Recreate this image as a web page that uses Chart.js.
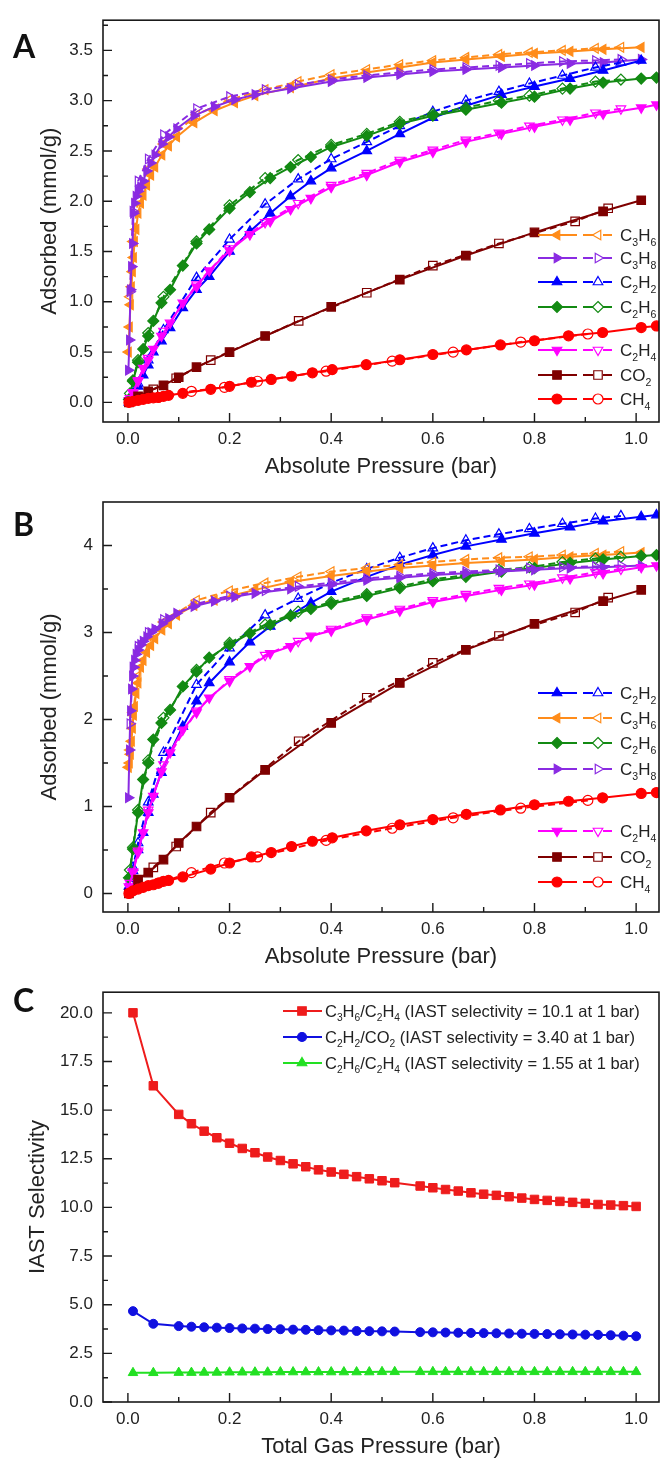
<!DOCTYPE html>
<html>
<head>
<meta charset="utf-8">
<script src="https://cdn.jsdelivr.net/npm/chart.js@4.4.1/dist/chart.umd.min.js"></script>
<style>
    html, body { margin: 0; padding: 0; background: #fff; }
    body { width: 662px; height: 1460px; position: relative; overflow: hidden; }
    canvas { position: absolute; left: 0; }
    .painel { position: absolute; z-index: 2; font-family: Lato, 'Open Sans', sans-serif; font-weight: 700; font-size: 32px; line-height: 1; color: #111; }
</style>
</head>
<body>
<canvas id="graficoA" width="662" height="480" style="top:0px"></canvas>
<canvas id="graficoB" width="662" height="492" style="top:480px"></canvas>
<canvas id="graficoC" width="662" height="488" style="top:972px"></canvas>
<div class="painel" style="left:13px;top:30px">A</div>
<div class="painel" style="left:13px;top:508px">B</div>
<div class="painel" style="left:13px;top:984px">C</div>
<script>
/**
 * Isotermas de adsorção (A, B) e seletividade IAST (C)
 */

const FONTE = "'Liberation Sans', Arial, sans-serif";
const COR_TEXTO = '#222';

// Marcas dos eixos
const ticksX = [0, 0.2, 0.4, 0.6, 0.8, 1.0];
const ticksXMenores = [0.1, 0.3, 0.5, 0.7, 0.9];
const ticksYA = [0, 0.5, 1.0, 1.5, 2.0, 2.5, 3.0, 3.5];
const ticksYAMenores = [0.25, 0.75, 1.25, 1.75, 2.25, 2.75, 3.25, 3.75];
const ticksYB = [0, 1, 2, 3, 4];
const ticksYBMenores = [0.5, 1.5, 2.5, 3.5];
const ticksYC = [0, 2.5, 5, 7.5, 10, 12.5, 15, 17.5, 20];
const ticksYCMenores = [1.25, 3.75, 6.25, 8.75, 11.25, 13.75, 16.25, 18.75];

// Pressões (bar)
const pAds = [0.002, 0.01, 0.02, 0.03, 0.04, 0.05, 0.066, 0.083, 0.108, 0.135, 0.16, 0.2, 0.24, 0.28, 0.32, 0.36, 0.4, 0.47, 0.535, 0.6, 0.665, 0.735, 0.8, 0.87, 0.935, 1.01, 1.04];
const pAdsC3 = [0.001, 0.003, 0.005, 0.007, 0.009, 0.011, 0.013, 0.016, 0.02, 0.025, 0.03, 0.037, 0.045, 0.053, 0.067, 0.08, 0.096, 0.13, 0.17, 0.21, 0.25, 0.32, 0.4, 0.47, 0.535, 0.6, 0.665, 0.735, 0.8, 0.87, 0.935, 1.01];
const pDes = [0.97, 0.92, 0.855, 0.79, 0.73, 0.665, 0.6, 0.535, 0.47, 0.4, 0.335, 0.27, 0.2, 0.135, 0.07, 0.04, 0.02, 0.01, 0.004];
const pCO2Ads = [0.002, 0.02, 0.04, 0.07, 0.1, 0.135, 0.2, 0.27, 0.4, 0.535, 0.665, 0.8, 0.935, 1.01];
const pCO2Des = [0.945, 0.88, 0.73, 0.6, 0.47, 0.336, 0.163, 0.095, 0.05];
const pCH4Ads = [0.002, 0.01, 0.02, 0.03, 0.04, 0.05, 0.06, 0.07, 0.08, 0.108, 0.163, 0.2, 0.243, 0.282, 0.322, 0.363, 0.402, 0.469, 0.535, 0.6, 0.666, 0.733, 0.8, 0.867, 0.934, 1.01, 1.04];
const pCH4Des = [0.905, 0.773, 0.64, 0.52, 0.39, 0.255, 0.19, 0.125, 0.06];

// Painel A - quantidade adsorvida (mmol/g)
const A_C3H6_ads = [0.5, 0.75, 0.97, 1.15, 1.3, 1.44, 1.6, 1.72, 1.88, 1.98, 2.06, 2.16, 2.26, 2.34, 2.46, 2.55, 2.64, 2.78, 2.9, 2.98, 3.05, 3.13, 3.22, 3.28, 3.33, 3.38, 3.41, 3.44, 3.47, 3.49, 3.51, 3.53];
const A_C3H6_des = [3.53, 3.52, 3.50, 3.48, 3.46, 3.43, 3.40, 3.36, 3.31, 3.26, 3.19, 3.11, 3.01, 2.86, 2.57, 2.32, 2.02, 1.6, 1.05];
const A_C3H8_ads = [0.32, 0.62, 1.12, 1.35, 1.58, 1.88, 1.98, 2.05, 2.1, 2.14, 2.2, 2.3, 2.38, 2.46, 2.57, 2.64, 2.72, 2.85, 2.94, 3.01, 3.06, 3.12, 3.19, 3.23, 3.26, 3.29, 3.31, 3.33, 3.35, 3.37, 3.38, 3.41];
const A_C3H8_des = [3.41, 3.40, 3.39, 3.37, 3.35, 3.33, 3.31, 3.28, 3.25, 3.21, 3.16, 3.11, 3.04, 2.92, 2.66, 2.42, 2.2, 1.9, 1.1];
const A_C2H2_ads = [0.0, 0.08, 0.16, 0.27, 0.37, 0.5, 0.61, 0.74, 0.94, 1.12, 1.25, 1.5, 1.7, 1.88, 2.05, 2.2, 2.33, 2.5, 2.67, 2.83, 2.95, 3.06, 3.14, 3.22, 3.30, 3.40, null];
const A_C2H2_des = [3.38, 3.33, 3.25, 3.17, 3.09, 3.0, 2.89, 2.75, 2.59, 2.42, 2.22, 1.97, 1.62, 1.24, 0.72, 0.42, 0.19, 0.09, 0.03];
const A_C2H6_ads = [0.03, 0.21, 0.4, 0.53, 0.66, 0.81, 0.99, 1.12, 1.36, 1.58, 1.72, 1.93, 2.09, 2.23, 2.34, 2.44, 2.54, 2.65, 2.77, 2.85, 2.91, 2.98, 3.04, 3.12, 3.18, 3.22, 3.23];
const A_C2H6_des = [3.21, 3.19, 3.12, 3.05, 3.0, 2.93, 2.87, 2.79, 2.67, 2.56, 2.41, 2.23, 1.96, 1.6, 1.05, 0.69, 0.42, 0.22, 0.09];
const A_C2H4_ads = [0.02, 0.09, 0.21, 0.34, 0.42, 0.53, 0.66, 0.79, 0.99, 1.15, 1.31, 1.51, 1.67, 1.8, 1.92, 2.03, 2.14, 2.26, 2.39, 2.49, 2.59, 2.67, 2.74, 2.81, 2.87, 2.93, 2.96];
const A_C2H4_des = [2.92, 2.88, 2.81, 2.75, 2.68, 2.61, 2.51, 2.41, 2.28, 2.16, 1.98, 1.79, 1.53, 1.17, 0.71, 0.44, 0.22, 0.1, 0.04];
const A_CO2_ads = [0.0, 0.06, 0.11, 0.17, 0.25, 0.35, 0.5, 0.66, 0.95, 1.22, 1.46, 1.69, 1.9, 2.01];
const A_CO2_des = [1.93, 1.8, 1.58, 1.36, 1.09, 0.81, 0.42, 0.24, 0.13];
const A_CH4_ads = [0.0, 0.01, 0.02, 0.03, 0.04, 0.045, 0.05, 0.06, 0.07, 0.09, 0.13, 0.16, 0.2, 0.228, 0.26, 0.294, 0.326, 0.375, 0.424, 0.476, 0.522, 0.571, 0.613, 0.662, 0.695, 0.744, 0.76];
const A_CH4_des = [0.68, 0.6, 0.5, 0.41, 0.31, 0.21, 0.15, 0.11, 0.05];

// Painel B - quantidade adsorvida (mmol/g)
const B_C2H2_ads = [0.08, 0.26, 0.5, 0.7, 0.93, 1.14, 1.39, 1.62, 1.92, 2.21, 2.42, 2.66, 2.89, 3.07, 3.2, 3.34, 3.47, 3.64, 3.78, 3.89, 3.99, 4.07, 4.14, 4.21, 4.28, 4.33, 4.35];
const B_C2H2_des = [4.34, 4.31, 4.25, 4.19, 4.13, 4.06, 3.97, 3.86, 3.73, 3.57, 3.39, 3.2, 2.82, 2.4, 1.62, 1.05, 0.58, 0.3, 0.13];
const B_C3H6_ads = [1.45, 1.5, 1.6, 1.75, 1.9, 2.05, 2.15, 2.3, 2.42, 2.6, 2.68, 2.77, 2.85, 2.93, 3.03, 3.1, 3.2, 3.31, 3.37, 3.43, 3.49, 3.58, 3.65, 3.7, 3.74, 3.77, 3.8, 3.82, 3.84, 3.87, 3.89, 3.92];
const B_C3H6_des = [3.93, 3.91, 3.89, 3.87, 3.86, 3.84, 3.81, 3.78, 3.74, 3.7, 3.64, 3.57, 3.48, 3.37, 3.12, 2.88, 2.5, 2.08, 1.65];
const B_C2H6_ads = [0.18, 0.51, 0.93, 1.31, 1.5, 1.77, 1.96, 2.11, 2.38, 2.55, 2.71, 2.86, 2.99, 3.09, 3.19, 3.27, 3.33, 3.42, 3.51, 3.59, 3.64, 3.7, 3.74, 3.8, 3.84, 3.88, 3.89];
const B_C2H6_des = [3.87, 3.85, 3.81, 3.75, 3.72, 3.66, 3.61, 3.53, 3.44, 3.35, 3.24, 3.09, 2.88, 2.57, 2.02, 1.53, 0.96, 0.53, 0.27];
const B_C3H8_ads = [1.1, 1.65, 2.1, 2.35, 2.5, 2.6, 2.68, 2.75, 2.8, 2.86, 2.9, 2.95, 3.0, 3.04, 3.1, 3.16, 3.22, 3.3, 3.36, 3.41, 3.45, 3.5, 3.55, 3.6, 3.63, 3.66, 3.68, 3.7, 3.72, 3.74, 3.75, 3.77];
const B_C3H8_des = [3.77, 3.76, 3.75, 3.74, 3.72, 3.7, 3.68, 3.65, 3.62, 3.57, 3.53, 3.48, 3.42, 3.33, 3.15, 3.0, 2.84, 2.6, 1.95];
const B_C2H4_ads = [0.08, 0.24, 0.47, 0.7, 0.93, 1.12, 1.4, 1.62, 1.88, 2.08, 2.25, 2.44, 2.61, 2.76, 2.84, 2.96, 3.02, 3.15, 3.25, 3.35, 3.42, 3.49, 3.55, 3.62, 3.68, 3.75, 3.77];
const B_C2H4_des = [3.73, 3.69, 3.63, 3.56, 3.51, 3.44, 3.37, 3.27, 3.17, 3.04, 2.9, 2.74, 2.46, 2.1, 1.48, 0.96, 0.49, 0.25, 0.12];
const B_CO2_ads = [0.0, 0.16, 0.24, 0.39, 0.58, 0.77, 1.1, 1.42, 1.96, 2.42, 2.8, 3.1, 3.36, 3.49];
const B_CO2_des = [3.4, 3.23, 2.96, 2.65, 2.25, 1.75, 0.93, 0.54, 0.3];
const B_CH4_ads = [0.0, 0.03, 0.05, 0.07, 0.09, 0.1, 0.12, 0.14, 0.15, 0.19, 0.28, 0.35, 0.42, 0.47, 0.54, 0.6, 0.64, 0.72, 0.79, 0.85, 0.91, 0.96, 1.02, 1.06, 1.1, 1.15, 1.16];
const B_CH4_des = [1.07, 0.98, 0.87, 0.75, 0.61, 0.42, 0.35, 0.24, 0.12];

// Painel C - seletividade IAST
const pTotal = [0.01, 0.05, 0.1, 0.125, 0.15, 0.175, 0.2, 0.225, 0.25, 0.275, 0.3, 0.325, 0.35, 0.375, 0.4, 0.425, 0.45, 0.475, 0.5, 0.525,
    0.575, 0.6, 0.625, 0.65, 0.675, 0.7, 0.725, 0.75, 0.775, 0.8, 0.825, 0.85, 0.875, 0.9, 0.925, 0.95, 0.975, 1.0];
const selC3H6C2H4 = [20.0, 16.25, 14.78, 14.3, 13.92, 13.58, 13.3, 13.03, 12.81, 12.59, 12.41, 12.24, 12.09, 11.93, 11.82, 11.7, 11.58, 11.47, 11.37, 11.27,
    11.1, 11.01, 10.92, 10.84, 10.75, 10.68, 10.62, 10.55, 10.48, 10.41, 10.36, 10.31, 10.26, 10.21, 10.15, 10.12, 10.09, 10.05];
const selC2H2CO2 = [4.67, 4.02, 3.9, 3.87, 3.84, 3.82, 3.8, 3.78, 3.77, 3.75, 3.74, 3.72, 3.71, 3.69, 3.68, 3.67, 3.65, 3.64, 3.63, 3.62,
    3.59, 3.58, 3.57, 3.56, 3.55, 3.54, 3.53, 3.52, 3.51, 3.50, 3.49, 3.48, 3.47, 3.46, 3.45, 3.43, 3.41, 3.38];
const selC2H6C2H4 = [1.5, 1.5, 1.51, 1.51, 1.52, 1.52, 1.53, 1.53, 1.53, 1.53, 1.54, 1.54, 1.54, 1.54, 1.54, 1.54, 1.54, 1.54, 1.55, 1.55,
    1.55, 1.55, 1.55, 1.55, 1.55, 1.55, 1.55, 1.55, 1.55, 1.55, 1.55, 1.55, 1.55, 1.55, 1.55, 1.55, 1.55, 1.55];
const rotulosC = ['C3H6/C2H4 (IAST selectivity = 10.1 at 1 bar)', 'C2H2/CO2 (IAST selectivity = 3.40 at 1 bar)', 'C2H6/C2H4 (IAST selectivity = 1.55 at 1 bar)'];

// Estilo de cada gás
const estiloGas = {
    C3H6: { cor: '#ff8c1a', forma: 'triangle', rot: 270, raio: 5.5 },
    C3H8: { cor: '#8a2be2', forma: 'triangle', rot: 90, raio: 5.5 },
    C2H2: { cor: '#0000ff', forma: 'triangle', rot: 0, raio: 5.5 },
    C2H6: { cor: '#138a13', forma: 'rectRot', rot: 0, raio: 5.5 },
    C2H4: { cor: '#ff00ff', forma: 'triangle', rot: 180, raio: 5.5 },
    CO2: { cor: '#7f0000', forma: 'rect', rot: 0, raio: 6 },
    CH4: { cor: '#ff0000', forma: 'circle', rot: 0, raio: 5 }
};
const estiloSel = [
    { cor: '#ee1c1c', forma: 'rect', rot: 0, raio: 6 },
    { cor: '#1010e0', forma: 'circle', rot: 0, raio: 4.5 },
    { cor: '#22e022', forma: 'triangle', rot: 0, raio: 5.5 }
];

function pontos(xs, ys) {
    return xs.map((x, i) => ({ x: x, y: ys[i] }));
}

// Duas séries por gás: adsorção (cheia, contínua) e dessorção (vazia, tracejada)
function seriesGas(nome, pa, ya, pd, yd) {
    const e = estiloGas[nome];
    const base = {
        showLine: true, tension: 0, borderWidth: 2, borderColor: e.cor,
        pointStyle: e.forma, pointRotation: e.rot, pointRadius: e.raio,
        pointBorderColor: e.cor, pointBorderWidth: 1.2
    };
    return [
        Object.assign({}, base, { label: nome + ' des', data: pontos(pd, yd), borderDash: [7, 4], pointBackgroundColor: 'rgba(255,255,255,0)' }),
        Object.assign({}, base, { label: nome + ' ads', data: pontos(pa, ya), pointBackgroundColor: e.cor, backgroundColor: e.cor })
    ];
}

function desenharMarcador(ctx, e, x, y, cheio) {
    const r = e.raio;
    ctx.save();
    ctx.translate(x, y);
    ctx.rotate(e.rot * Math.PI / 180);
    ctx.beginPath();
    if (e.forma === 'circle') {
        ctx.arc(0, 0, r, 0, Math.PI * 2);
    } else if (e.forma === 'triangle') {
        for (let k = 0; k < 3; k++) {
            const a = k * 2 * Math.PI / 3;
            ctx.lineTo(Math.sin(a) * r, -Math.cos(a) * r);
        }
        ctx.closePath();
    } else if (e.forma === 'rect') {
        const s = r * Math.SQRT1_2;
        ctx.rect(-s, -s, 2 * s, 2 * s);
    } else {
        ctx.moveTo(0, -r); ctx.lineTo(r, 0); ctx.lineTo(0, r); ctx.lineTo(-r, 0); ctx.closePath();
    }
    ctx.lineWidth = 1.2;
    ctx.strokeStyle = e.cor;
    if (cheio) { ctx.fillStyle = e.cor; ctx.fill(); }
    ctx.stroke();
    ctx.restore();
}

// Texto com índices químicos (dígito logo após letra vira subscrito)
function escreverFormula(ctx, texto, x, y, tam) {
    const partes = [];
    let anterior = '';
    for (const ch of texto) {
        const sub = /[0-9]/.test(ch) && /[A-Za-z]/.test(anterior);
        const ultima = partes[partes.length - 1];
        if (ultima && !sub && !ultima.sub) ultima.t += ch;
        else partes.push({ t: ch, sub: sub });
        anterior = ch;
    }
    const base = y + tam * 0.36;
    let cx = x;
    ctx.save();
    ctx.fillStyle = COR_TEXTO;
    ctx.textBaseline = 'alphabetic';
    ctx.textAlign = 'left';
    partes.forEach(p => {
        const t = p.sub ? tam * 0.62 : tam;
        ctx.font = t + 'px ' + FONTE;
        ctx.fillText(p.t, cx, p.sub ? base + tam * 0.26 : base);
        cx += ctx.measureText(p.t).width;
    });
    ctx.restore();
}

// Moldura e marcas para dentro
const pluginMoldura = {
    id: 'moldura',
    afterDraw(chart, args, opts) {
        const ctx = chart.ctx;
        const area = chart.chartArea;
        const sx = chart.scales.x;
        const sy = chart.scales.y;
        ctx.save();
        ctx.strokeStyle = '#1a1a1a';
        ctx.lineWidth = 1.6;
        ctx.strokeRect(area.left, area.top, area.right - area.left, area.bottom - area.top);
        ctx.lineWidth = 1.4;
        ctx.beginPath();
        const marcaX = (v, c) => { const px = sx.getPixelForValue(v); ctx.moveTo(px, area.bottom); ctx.lineTo(px, area.bottom - c); };
        const marcaY = (v, c) => { const py = sy.getPixelForValue(v); ctx.moveTo(area.left, py); ctx.lineTo(area.left + c, py); };
        opts.xMaiores.forEach(v => marcaX(v, 9));
        opts.xMenores.forEach(v => marcaX(v, 5));
        opts.yMaiores.forEach(v => marcaY(v, 9));
        opts.yMenores.forEach(v => marcaY(v, 5));
        ctx.stroke();
        ctx.restore();
    }
};

// Legenda desenhada no canvas
const pluginLegenda = {
    id: 'legendaQuimica',
    afterDraw(chart, args, opts) {
        const ctx = chart.ctx;
        opts.itens.forEach((item, i) => {
            const y = opts.linhas[i];
            const e = item.estilo;
            ctx.save();
            ctx.strokeStyle = e.cor;
            ctx.lineWidth = 2;
            ctx.beginPath();
            if (opts.tipo === 'isoterma') {
                ctx.moveTo(538, y); ctx.lineTo(577, y);
                ctx.moveTo(583, y); ctx.lineTo(593, y);
                ctx.moveTo(603, y); ctx.lineTo(612, y);
                ctx.stroke();
                desenharMarcador(ctx, e, 557, y, true);
                desenharMarcador(ctx, e, 598, y, false);
                escreverFormula(ctx, item.texto, 620, y, 17);
            } else {
                ctx.moveTo(283, y); ctx.lineTo(322, y);
                ctx.stroke();
                desenharMarcador(ctx, e, 302, y, true);
                escreverFormula(ctx, item.texto, 325, y, 16.5);
            }
            ctx.restore();
        });
    }
};

function eixos(cfg) {
    const fonteTick = { family: FONTE, size: 17 };
    const fonteTitulo = { family: FONTE, size: 22 };
    return {
        x: {
            type: 'linear', min: -0.049, max: 1.045,
            afterBuildTicks: s => { s.ticks = ticksX.map(v => ({ value: v })); },
            afterFit: s => { s.height = cfg.alturaX; },
            grid: { display: false, drawTicks: false },
            border: { display: false },
            ticks: { padding: 7, color: COR_TEXTO, font: fonteTick, autoSkip: false, maxRotation: 0, callback: v => v.toFixed(1) },
            title: { display: true, text: cfg.tituloX, color: COR_TEXTO, font: fonteTitulo, padding: { top: 0, bottom: cfg.padTituloX } }
        },
        y: {
            type: 'linear', min: cfg.yMin, max: cfg.yMax,
            afterBuildTicks: s => { s.ticks = cfg.ticksY.map(v => ({ value: v })); },
            afterFit: s => { s.width = 103; },
            grid: { display: false, drawTicks: false },
            border: { display: false },
            ticks: { padding: 10, color: COR_TEXTO, font: fonteTick, autoSkip: false, callback: cfg.formatoY },
            title: { display: true, text: cfg.tituloY, color: COR_TEXTO, font: fonteTitulo, padding: { top: cfg.padTituloY, bottom: 0 } }
        }
    };
}

function criarGrafico(id, datasets, cfg, legenda) {
    const ctx = document.getElementById(id).getContext('2d');
    return new Chart(ctx, {
        type: 'scatter',
        data: { datasets: datasets },
        options: {
            responsive: false,
            animation: false,
            events: [],
            layout: { autoPadding: false, padding: { top: cfg.topo, right: 3, left: 0, bottom: 0 } },
            plugins: {
                legend: { display: false },
                tooltip: { enabled: false },
                moldura: { xMaiores: ticksX, xMenores: ticksXMenores, yMaiores: cfg.ticksY, yMenores: cfg.ticksYMenores },
                legendaQuimica: legenda
            },
            scales: eixos(cfg)
        },
        plugins: [pluginMoldura, pluginLegenda]
    });
}

// Painel A
const ordemA = ['C3H6', 'C3H8', 'C2H2', 'C2H6', 'C2H4', 'CO2', 'CH4'];
const seriesA = {
    C3H6: seriesGas('C3H6', pAdsC3, A_C3H6_ads, pDes, A_C3H6_des),
    C3H8: seriesGas('C3H8', pAdsC3, A_C3H8_ads, pDes, A_C3H8_des),
    C2H2: seriesGas('C2H2', pAds, A_C2H2_ads, pDes, A_C2H2_des),
    C2H6: seriesGas('C2H6', pAds, A_C2H6_ads, pDes, A_C2H6_des),
    C2H4: seriesGas('C2H4', pAds, A_C2H4_ads, pDes, A_C2H4_des),
    CO2: seriesGas('CO2', pCO2Ads, A_CO2_ads, pCO2Des, A_CO2_des),
    CH4: seriesGas('CH4', pCH4Ads, A_CH4_ads, pCH4Des, A_CH4_des)
};
criarGrafico('graficoA',
    ordemA.slice().reverse().flatMap(n => seriesA[n]),
    { topo: 12, alturaX: 58, padTituloX: 0, tituloX: 'Absolute Pressure (bar)', tituloY: 'Adsorbed (mmol/g)', padTituloY: 37,
      yMin: -0.195, yMax: 3.80, ticksY: ticksYA, ticksYMenores: ticksYAMenores, formatoY: v => v.toFixed(1) },
    { tipo: 'isoterma', linhas: [235, 258, 282, 307, 350, 375, 399], itens: ordemA.map(n => ({ texto: n, estilo: estiloGas[n] })) }
);

// Painel B
const ordemB = ['C2H2', 'C3H6', 'C2H6', 'C3H8', 'C2H4', 'CO2', 'CH4'];
const seriesB = {
    C2H2: seriesGas('C2H2', pAds, B_C2H2_ads, pDes, B_C2H2_des),
    C3H6: seriesGas('C3H6', pAdsC3, B_C3H6_ads, pDes, B_C3H6_des),
    C2H6: seriesGas('C2H6', pAds, B_C2H6_ads, pDes, B_C2H6_des),
    C3H8: seriesGas('C3H8', pAdsC3, B_C3H8_ads, pDes, B_C3H8_des),
    C2H4: seriesGas('C2H4', pAds, B_C2H4_ads, pDes, B_C2H4_des),
    CO2: seriesGas('CO2', pCO2Ads, B_CO2_ads, pCO2Des, B_CO2_des),
    CH4: seriesGas('CH4', pCH4Ads, B_CH4_ads, pCH4Des, B_CH4_des)
};
criarGrafico('graficoB',
    ordemB.slice().reverse().flatMap(n => seriesB[n]),
    { topo: 22, alturaX: 60, padTituloX: 2, tituloX: 'Absolute Pressure (bar)', tituloY: 'Adsorbed (mmol/g)', padTituloY: 37,
      yMin: -0.213, yMax: 4.5, ticksY: ticksYB, ticksYMenores: ticksYBMenores, formatoY: v => String(v) },
    { tipo: 'isoterma', linhas: [213, 238, 263, 289, 351, 377, 402], itens: ordemB.map(n => ({ texto: n, estilo: estiloGas[n] })) }
);

// Painel C
const valoresC = [selC3H6C2H4, selC2H2CO2, selC2H6C2H4];
const seriesC = valoresC.map((vals, i) => {
    const e = estiloSel[i];
    return {
        label: rotulosC[i], data: pontos(pTotal, vals), showLine: true, tension: 0,
        borderColor: e.cor, borderWidth: 2, pointStyle: e.forma, pointRotation: e.rot, pointRadius: e.raio,
        pointBackgroundColor: e.cor, pointBorderColor: e.cor, pointBorderWidth: 1
    };
});
criarGrafico('graficoC',
    seriesC,
    { topo: 19, alturaX: 58, padTituloX: 0, tituloX: 'Total Gas Pressure (bar)', tituloY: 'IAST Selectivity', padTituloY: 25,
      yMin: 0, yMax: 21.06, ticksY: ticksYC, ticksYMenores: ticksYCMenores, formatoY: v => v.toFixed(1) },
    { tipo: 'simples', linhas: [39, 65, 91], itens: rotulosC.map((t, i) => ({ texto: t, estilo: estiloSel[i] })) }
);
</script>
</body>
</html>
